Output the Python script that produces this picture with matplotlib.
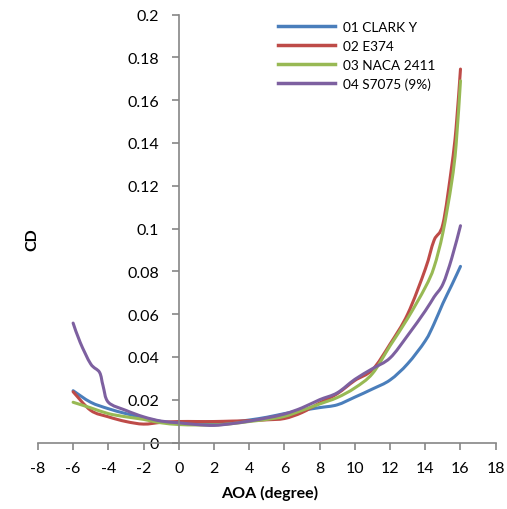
import matplotlib
matplotlib.use("Agg")
import matplotlib.pyplot as plt
import numpy as np
from matplotlib.path import Path
from matplotlib.patches import PathPatch
from matplotlib.ticker import FixedLocator, FuncFormatter

plt.rcParams['font.family'] = ['Lato', 'DejaVu Sans']

# ---- data ----
aoa_clark = [-6, -5, -4, -3, -2, -1, 0, 1, 2, 3, 4, 5, 6, 7, 8, 9, 10, 11, 12, 13, 14, 14.5, 15, 15.5, 16]
cd_clark = [0.0242, 0.0188, 0.0158, 0.0135, 0.0115, 0.0098, 0.0090, 0.0088, 0.0088, 0.0095, 0.0105,
            0.0118, 0.0135, 0.0150, 0.0163, 0.0176, 0.0212, 0.0250, 0.0292, 0.0368, 0.0475, 0.0555,
            0.0650, 0.0735, 0.0823]

aoa_e374 = [-6, -5, -4, -3, -2, -1, 0, 1, 2, 3, 4, 5, 6, 7, 8, 9, 10, 11, 12, 13, 14, 14.5, 15, 15.5, 15.75, 16]
cd_e374 = [0.0237, 0.0150, 0.0120, 0.0098, 0.0086, 0.0094, 0.0098, 0.0098, 0.0098, 0.0100, 0.0102,
           0.0106, 0.0112, 0.0140, 0.0185, 0.0228, 0.0290, 0.0340, 0.0460, 0.0600, 0.0810, 0.0945,
           0.1020, 0.1290, 0.1470, 0.1745]

aoa_naca = [-6, -5, -4, -3, -2, -1, 0, 1, 2, 3, 4, 5, 6, 7, 8, 9, 10, 11, 12, 13, 14, 14.5, 15, 15.5, 15.75, 16]
cd_naca = [0.0188, 0.0162, 0.0135, 0.0120, 0.0108, 0.0092, 0.0084, 0.0082, 0.0082, 0.0088, 0.0098,
           0.0108, 0.0122, 0.0150, 0.0180, 0.0210, 0.0255, 0.0322, 0.0452, 0.0580, 0.0725, 0.0820,
           0.0980, 0.1216, 0.1390, 0.1690]

aoa_s7075 = [-6, -5.6, -5, -4.5, -4.3, -4, -3, -2, -1, 0, 1, 2, 3, 4, 5, 6, 7, 8, 9, 10, 11, 12, 13,
             14, 14.5, 15, 15.5, 16]
cd_s7075 = [0.0558, 0.0468, 0.0367, 0.0328, 0.0265, 0.0188, 0.0150, 0.0120, 0.0100, 0.0092, 0.0084,
            0.0080, 0.0088, 0.0100, 0.0115, 0.0133, 0.0162, 0.0200, 0.0232, 0.0295, 0.0345, 0.0395,
            0.0500, 0.0615, 0.0680, 0.0740, 0.0860, 0.1013]

series_names = ['01 CLARK Y', '02 E374', '03 NACA 2411', '04 S7075 (9%)']
colors = ['#4A7EBB', '#BE4B48', '#98B954', '#7D60A0']

x_ticks = list(range(-8, 19, 2))
y_ticks = [0, 0.02, 0.04, 0.06, 0.08, 0.1, 0.12, 0.14, 0.16, 0.18, 0.2]


def smooth_path(x, y):
    """Excel-style smoothed line: Bezier segments through the data points."""
    p = np.column_stack([x, y]).astype(float)
    n = len(p)
    verts = [p[0]]
    codes = [Path.MOVETO]
    for i in range(n - 1):
        p0 = p[i - 1] if i > 0 else p[i]
        p1, p2 = p[i], p[i + 1]
        p3 = p[i + 2] if i + 2 < n else p[i + 1]
        c1 = p1 + (p2 - p0) / 6.0
        c2 = p2 - (p3 - p1) / 6.0
        verts += [c1, c2, p2]
        codes += [Path.CURVE4] * 3
    return Path(verts, codes)


# ---- figure ----
W, H = 507, 510
fig = plt.figure(figsize=(W / 100, H / 100), dpi=100)
ax = fig.add_axes([37.9 / W, 1 - 443.5 / H, (495.7 - 37.9) / W, (443.5 - 15.5) / H])

data = [(aoa_clark, cd_clark), (aoa_e374, cd_e374), (aoa_naca, cd_naca), (aoa_s7075, cd_s7075)]
handles = []
for (x, y), name, c in zip(data, series_names, colors):
    ax.add_patch(PathPatch(smooth_path(x, y), fill=False, edgecolor=c, lw=2.2,
                           capstyle='round', joinstyle='round', transform=ax.transData))
    h, = ax.plot([], [], color=c, lw=2.5, label=name)
    handles.append(h)

ax.set_xlim(-8, 18)
ax.set_ylim(0, 0.2)
ax.xaxis.set_major_locator(FixedLocator(x_ticks))
ax.yaxis.set_major_locator(FixedLocator(y_ticks))
ax.yaxis.set_major_formatter(FuncFormatter(lambda v, p: ('%.2f' % v).rstrip('0').rstrip('.') if v != 0 else '0'))
ax.xaxis.set_major_formatter(FuncFormatter(lambda v, p: '%d' % v))

gray = '#868686'
for s in ['top', 'right']:
    ax.spines[s].set_visible(False)
ax.spines['left'].set_position(('data', 0))
ax.spines['bottom'].set_position(('data', 0))
for s in ['left', 'bottom']:
    ax.spines[s].set_color(gray)
    ax.spines[s].set_linewidth(1.2)
ax.tick_params(axis='both', direction='out', length=5, width=1.2, color=gray,
               labelsize=11.5, labelcolor='black')
ax.tick_params(axis='y', pad=9)
ax.tick_params(axis='x', pad=8)

fig.text(270 / W, 1 - 493 / H, 'AOA (degree)', ha='center', va='center', fontsize=11.5, fontweight='bold')
fig.text(32 / W, 1 - 240 / H, 'CD', ha='center', va='center', fontsize=11.5, fontweight='bold', rotation=90)

leg = ax.legend(handles=handles, loc='upper left', bbox_to_anchor=(278 / W, 1 - 22 / H),
                bbox_transform=fig.transFigure, frameon=False, fontsize=9.8, handlelength=4.2,
                handletextpad=0.55, labelspacing=0.5, borderpad=0, borderaxespad=0)

fig.savefig('out.png', dpi=100)
